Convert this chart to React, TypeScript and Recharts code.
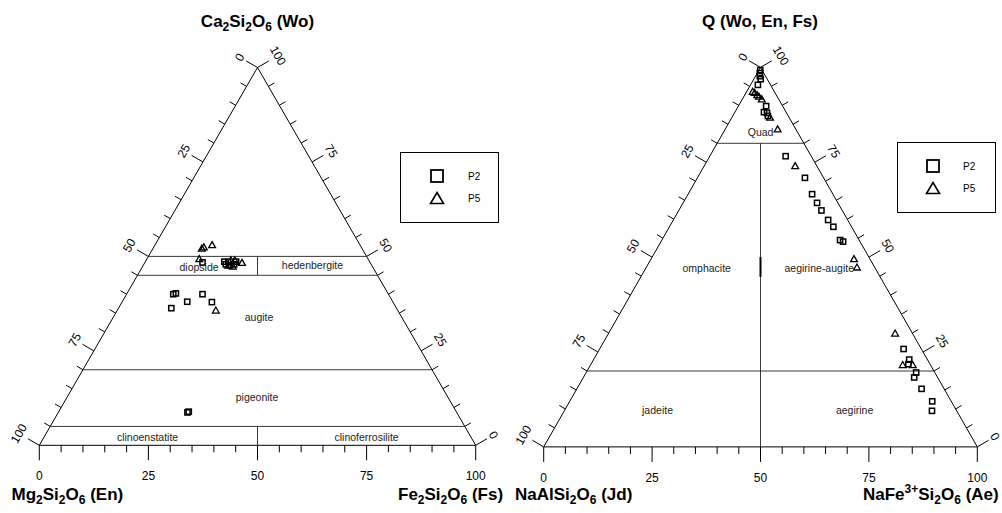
import { ScatterChart, Scatter, XAxis, YAxis, ReferenceLine, ReferenceDot, Legend } from 'recharts';

const FONT = '"Liberation Sans", Arial, Helvetica, sans-serif';
const H = Math.sqrt(3) / 2;
const PX = 4.36; // screen px per composition unit

// Wo–En–Fs quadrilateral (left diagram)
const quadP2Wo = [48.4, 48.6, 48.6, 47.9, 48.6, 47.9, 47.7, 40.0, 40.2, 38.0, 40.0, 37.9, 36.3, 8.7, 8.9];
const quadP2En = [38.4, 33.3, 32.4, 31.4, 30.6, 33.3, 32.4, 49.3, 48.6, 47.1, 42.6, 41.5, 51.6, 61.7, 61.3];
const quadP2Fs = [13.2, 18.1, 19.0, 20.7, 20.8, 18.8, 19.9, 10.7, 11.2, 14.9, 17.4, 20.6, 12.1, 29.6, 29.8];

const quadP5Wo = [52.1, 52.4, 53.0, 49.3, 49.0, 47.3, 48.3, 49.0, 47.6, 35.7];
const quadP5En = [36.7, 36.1, 33.9, 38.7, 31.6, 32.0, 29.4, 30.7, 32.9, 41.7];
const quadP5Fs = [11.2, 11.5, 13.1, 12.0, 19.4, 20.7, 22.3, 20.3, 19.5, 22.6];

// Q–Jd–Ae (right diagram)
const jdP2Q = [99.3, 98.5, 97.7, 96.9, 95.4, 89.8, 88.2, 88.0, 87.2, 76.6, 70.9, 66.6, 64.3, 62.3, 59.8, 58.0, 54.5, 54.1, 25.8, 23.0, 21.8, 19.6, 18.3, 15.3, 12.0, 9.5];
const jdP2Jd = [0.4, 0.9, 1.3, 1.5, 2.9, 3.8, 5.1, 4.5, 4.7, 5.9, 4.3, 4.8, 4.8, 4.8, 4.5, 4.2, 4.4, 3.9, 4.1, 4.2, 5.0, 4.3, 5.4, 5.2, 4.4, 5.7];
const jdP2Ae = [0.3, 0.6, 1.0, 1.6, 1.7, 6.4, 6.7, 7.5, 8.1, 17.5, 24.8, 28.6, 30.9, 32.9, 35.7, 37.8, 41.1, 42.0, 70.1, 72.8, 73.2, 76.1, 76.3, 79.5, 83.6, 84.8];

const jdP5Q = [93.6, 93.3, 92.7, 92.3, 91.6, 86.8, 83.7, 74.0, 49.5, 47.3, 29.9, 21.6, 21.6];
const jdP5Jd = [5.0, 4.7, 4.4, 4.2, 3.9, 4.4, 4.2, 5.0, 3.7, 4.1, 4.0, 6.4, 4.1];
const jdP5Ae = [1.4, 2.0, 2.9, 3.5, 4.5, 8.8, 12.1, 21.0, 46.8, 48.6, 66.1, 72.0, 74.3];

// field names
const quadFields = ['diopside', 'hedenbergite', 'augite', 'pigeonite', 'clinoenstatite', 'clinoferrosilite'];
const quadFieldWo = [47.3, 47.6, 34.0, 12.9, 2.1, 2.1];
const quadFieldFs = [12.95, 38.8, 33.35, 43.45, 23.75, 73.95];

const jdFields = ['Quad', 'omphacite', 'aegirine-augite', 'jadeite', 'aegirine'];
const jdFieldQ = [83.05, 47.1, 47.1, 9.7, 9.7];
const jdFieldAe = [8.5, 14.05, 40.0, 21.4, 66.85];

const AXIS_STEPS = Array.from({ length: 21 }, (_, i) => i * 5);

type Pt = { x: number; y: number };
type Seg = [number, number, number, number]; // top1, right1, top2, right2

const toXY = (top: number, right: number): Pt => ({ x: right + top / 2, y: top * H });

// field boundaries as (top, right) pairs
const quadLines: Seg[] = [
  [50, 0, 50, 50],
  [45, 0, 45, 55],
  [20, 0, 20, 80],
  [5, 0, 5, 95],
  [50, 25, 45, 27.5],
  [5, 47.5, 0, 50],
];
const jdLines: Seg[] = [
  [80, 0, 80, 20],
  [20, 0, 20, 80],
  [80, 10, 0, 50],
];
const jdHeavy: Seg[] = [[50.0, 25.0, 44.8, 27.6]];

const quadP2 = quadP2Wo.map((wo, i) => toXY(wo, quadP2Fs[i]));
const quadP5 = quadP5Wo.map((wo, i) => toXY(wo, quadP5Fs[i]));
const jdP2 = jdP2Q.map((q, i) => toXY(q, jdP2Ae[i]));
const jdP5 = jdP5Q.map((q, i) => toXY(q, jdP5Ae[i]));
const quadFieldPts = quadFields.map((text, i) => ({ ...toXY(quadFieldWo[i], quadFieldFs[i]), text }));
const jdFieldPts = jdFields.map((text, i) => ({ ...toXY(jdFieldQ[i], jdFieldAe[i]), text }));

const SquareDot = (p: any) => (
  <rect x={p.cx - 2.6} y={p.cy - 2.6} width={5.2} height={5.2} fill="none" stroke="#000" strokeWidth={1.5} />
);
const TriDot = (p: any) => (
  <path
    d={`M${p.cx},${p.cy - 3.4}L${p.cx + 3.4},${p.cy + 2.6}L${p.cx - 3.4},${p.cy + 2.6}Z`}
    fill="none"
    stroke="#000"
    strokeWidth={1.3}
  />
);
const FieldText = (p: any) => (
  <text x={p.cx} y={p.cy} textAnchor="middle" dominantBaseline="central" fontSize={10.5} fill="#222" fontFamily={FONT}>
    {p.payload.text}
  </text>
);

const BaseTick = ({ x, y, payload }: any) => {
  const v = payload.value;
  const major = v % 25 === 0;
  return (
    <g>
      <line x1={x} y1={y} x2={x} y2={y + (major ? 15 : 7)} stroke="#000" />
      {major && (
        <text x={x} y={y + 31} textAnchor="middle" dominantBaseline="central" fontSize={12} fill="#000" fontFamily={FONT}>
          {v}
        </text>
      )}
    </g>
  );
};

const LegendBox = ({ sx, ty }: { sx: number; ty: number }) => (
  <svg width={99} height={71} style={{ display: 'block' }}>
    <rect x={0.5} y={0.5} width={98} height={70} fill="#fff" stroke="#000" />
    <rect x={sx - 6} y={24 - 6} width={12} height={12} fill="none" stroke="#000" strokeWidth={1.8} />
    <path d={`M${sx},${40.5}L${sx + 6.5},${51.5}L${sx - 6.5},${51.5}Z`} fill="none" stroke="#000" strokeWidth={1.6} />
    <text x={ty} y={24} dominantBaseline="central" fontSize={10} fontFamily={FONT}>P2</text>
    <text x={ty} y={46} dominantBaseline="central" fontSize={10} fontFamily={FONT}>P5</text>
  </svg>
);

interface TernaryProps {
  left: number;
  width: number;
  margin: { top: number; right: number; bottom: number; left: number };
  p2: Pt[];
  p5: Pt[];
  fields: (Pt & { text: string })[];
  lines: Seg[];
  heavy?: Seg[];
  legendLeft: number;
  legendTop: number;
  legendSx: number;
  legendTx: number;
}

function Ternary({ left, width, margin, p2, p5, fields, lines, heavy = [], legendLeft, legendTop, legendSx, legendTx }: TernaryProps) {
  const ticks = AXIS_STEPS.flatMap((v) => {
    const len = v % 25 === 0 ? 3.0 : 1.6;
    const a = toXY(100 - v, 0);
    const b = toXY(v, 100 - v);
    return [
      [a, { x: a.x - len * 0.866, y: a.y + len * 0.5 }],
      [b, { x: b.x + len * 0.866, y: b.y + len * 0.5 }],
    ];
  });
  const sideLabels = AXIS_STEPS.filter((v) => v % 25 === 0).flatMap((v) => {
    const d = (19 + 1.5 * String(v).length) / PX;
    const a = toXY(100 - v, 0);
    const b = toXY(v, 100 - v);
    return [
      { x: a.x - d * 0.866, y: a.y + d * 0.5, text: String(v), angle: -60 },
      { x: b.x + d * 0.866, y: b.y + d * 0.5, text: String(v), angle: 60 },
    ];
  });
  const apex = toXY(100, 0);

  return (
    <div style={{ position: 'absolute', left, top: 0 }}>
      <ScatterChart width={width} height={513} margin={margin}>
        <XAxis
          type="number"
          dataKey="x"
          domain={[0, 100]}
          ticks={AXIS_STEPS}
          interval={0}
          tickSize={0}
          tickMargin={0}
          tickLine={false}
          axisLine={{ stroke: '#000' }}
          height={40}
          tick={BaseTick}
        />
        <YAxis type="number" dataKey="y" domain={[0, 100 * H]} hide />
        <ReferenceLine segment={[{ x: 0, y: 0 }, apex]} stroke="#000" ifOverflow="visible" />
        <ReferenceLine segment={[{ x: 100, y: 0 }, apex]} stroke="#000" ifOverflow="visible" />
        {lines.map(([t1, r1, t2, r2], i) => (
          <ReferenceLine key={`l${i}`} segment={[toXY(t1, r1), toXY(t2, r2)]} stroke="#222" strokeWidth={0.9} ifOverflow="visible" />
        ))}
        {heavy.map(([t1, r1, t2, r2], i) => (
          <ReferenceLine key={`h${i}`} segment={[toXY(t1, r1), toXY(t2, r2)]} stroke="#000" strokeWidth={2} ifOverflow="visible" />
        ))}
        {ticks.map((s, i) => (
          <ReferenceLine key={`t${i}`} segment={s as [Pt, Pt]} stroke="#000" ifOverflow="visible" />
        ))}
        {sideLabels.map((l, i) => (
          <ReferenceDot
            key={`s${i}`}
            x={l.x}
            y={l.y}
            r={1}
            ifOverflow="visible"
            shape={(p: any) => (
              <text
                x={p.cx}
                y={p.cy}
                textAnchor="middle"
                dominantBaseline="central"
                fontSize={12}
                fill="#000"
                fontFamily={FONT}
                transform={`rotate(${l.angle} ${p.cx} ${p.cy})`}
              >
                {l.text}
              </text>
            )}
          />
        ))}
        <Scatter data={fields} shape={FieldText} isAnimationActive={false} />
        <Scatter data={p2} shape={SquareDot} isAnimationActive={false} />
        <Scatter data={p5} shape={TriDot} isAnimationActive={false} />
        <Legend
          layout="horizontal"
          align="center"
          verticalAlign="middle"
          width={99}
          height={71}
          wrapperStyle={{ left: legendLeft, top: legendTop, width: 99, height: 71 }}
          content={() => <LegendBox sx={legendSx} ty={legendTx} />}
        />
      </ScatterChart>
    </div>
  );
}

type Part = [string, ('sub' | 'sup')?];

const Formula = ({ parts, x, y, anchor = 'start' }: { parts: Part[]; x: number; y: number; anchor?: string }) => {
  let shift = 0;
  return (
    <text x={x} y={y} textAnchor={anchor} fontSize={17} fontWeight="bold" fontFamily={FONT} fill="#000">
      {parts.map(([t, k], i) => {
        const target = k === 'sub' ? 4 : k === 'sup' ? -7 : 0;
        const dy = target - shift;
        shift = target;
        return (
          <tspan key={i} dy={dy} fontSize={k ? 12 : 17}>
            {t}
          </tspan>
        );
      })}
    </text>
  );
};

const TITLE_WO: Part[] = [['Ca'], ['2', 'sub'], ['Si'], ['2', 'sub'], ['O'], ['6', 'sub'], [' (Wo)']];
const TITLE_Q: Part[] = [['Q (Wo, En, Fs)']];
const TITLE_EN: Part[] = [['Mg'], ['2', 'sub'], ['Si'], ['2', 'sub'], ['O'], ['6', 'sub'], [' (En)']];
const TITLE_FS: Part[] = [['Fe'], ['2', 'sub'], ['Si'], ['2', 'sub'], ['O'], ['6', 'sub'], [' (Fs)']];
const TITLE_JD: Part[] = [['NaAlSi'], ['2', 'sub'], ['O'], ['6', 'sub'], [' (Jd)']];
const TITLE_AE: Part[] = [['NaFe'], ['3+', 'sup'], ['Si'], ['2', 'sub'], ['O'], ['6', 'sub'], [' (Ae)']];

export default function App() {
  return (
    <div style={{ position: 'absolute', left: 0, top: 0, width: 1002, height: 513, background: '#fff', fontFamily: FONT }}>
      <Ternary
        left={0}
        width={515}
        margin={{ top: 67.5, left: 39.3, right: 39.3, bottom: 27.7 }}
        p2={quadP2}
        p5={quadP5}
        fields={quadFieldPts}
        lines={quadLines}
        legendLeft={400}
        legendTop={152}
        legendSx={37}
        legendTx={68}
      />
      <Ternary
        left={500}
        width={502}
        margin={{ top: 67.4, left: 43.7, right: 24.7, bottom: 26.1 }}
        p2={jdP2}
        p5={jdP5}
        fields={jdFieldPts}
        lines={jdLines}
        heavy={jdHeavy}
        legendLeft={397}
        legendTop={142}
        legendSx={36}
        legendTx={66}
      />
      <svg width={1002} height={513} style={{ position: 'absolute', left: 0, top: 0, pointerEvents: 'none' }}>
        <Formula parts={TITLE_WO} x={257.5} y={26.5} anchor="middle" />
        <Formula parts={TITLE_Q} x={760} y={26.5} anchor="middle" />
        <Formula parts={TITLE_EN} x={11.5} y={500} />
        <Formula parts={TITLE_FS} x={398} y={500} />
        <Formula parts={TITLE_JD} x={515} y={500} />
        <Formula parts={TITLE_AE} x={863} y={500} />
      </svg>
    </div>
  );
}
